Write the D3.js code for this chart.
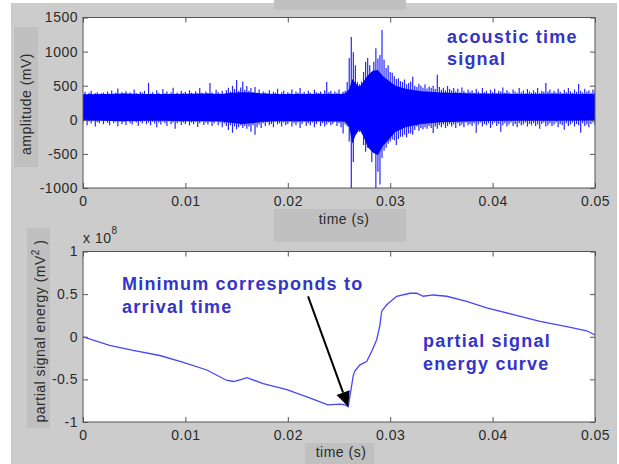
<!DOCTYPE html>
<html>
<head>
<meta charset="utf-8">
<script src="https://cdn.jsdelivr.net/npm/d3@7"></script>
<style>
html, body { margin: 0; padding: 0; background: #ffffff; }
svg { display: block; }
text { font-family: "Liberation Sans", Arial, Helvetica, sans-serif; }
</style>
</head>
<body>
<svg id="fig" width="619" height="464"></svg>
<script>
// ---- acoustic signal: per-sample peak values (mV), one pair every 0.2 ms ----
const sigStep = 0.0002;
const sigHigh = [
  380, 410, 350, 395, 425, 365, 390, 405, 345, 390,
  400, 360, 415, 375, 430, 355, 395, 460, 370, 405,
  385, 420, 350, 400, 375, 445, 390, 360, 410, 395,
  425, 370, 545, 385, 405, 355, 435, 395, 380, 450,
  390, 415, 365, 405, 470, 380, 400, 355, 425, 390,
  410, 375, 435, 395, 360, 420, 385, 465, 395, 370,
  415, 390, 540, 400, 375, 440, 405, 385, 425, 365,
  435, 470, 415, 500, 450, 585, 425, 475, 560, 440,
  495, 425, 465, 405, 480, 395, 445, 375, 415, 400,
  385, 435, 365, 410, 395, 455, 380, 405, 425, 370,
  405, 390, 445, 375, 415, 395, 465, 385, 410, 360,
  425, 395, 380, 440, 405, 390, 415, 375, 435, 555,
  405, 425, 385, 415, 395, 445, 375, 410, 425, 555,
  905, 1215, 990, 800, 555, 520, 560, 700, 850, 905,
  800, 700, 850, 1050, 900, 950, 1315, 880, 760, 800,
  700, 690, 640, 600, 610, 570, 555, 590, 520, 540,
  560, 630, 500, 480, 530, 500, 470, 520, 460, 490,
  470, 500, 450, 660, 480, 440, 470, 430, 495, 450,
  430, 465, 415, 455, 405, 475, 425, 395, 445, 410,
  435, 395, 455, 415, 390, 465, 405, 425, 385, 440,
  405, 455, 390, 425, 415, 475, 395, 435, 405, 385,
  445, 415, 395, 465, 405, 430, 390, 450, 415, 395,
  435, 405, 465, 390, 425, 410, 540, 415, 445, 395,
  425, 400, 455, 415, 390, 440, 405, 465, 420, 395,
  445, 410, 525, 425, 400, 455, 415, 435, 395, 445, 415
];
const sigLow = [
  -40, -10, -80, -25, -55, -15, -100, -35, -50, -10,
  -65, -20, -45, -80, -15, -50, -30, -95, -25, -60,
  -30, -75, -15, -50, -70, -25, -40, -90, -30, -55,
  -20, -65, -40, -80, -30, -55, -110, -40, -70, -30,
  -50, -90, -25, -65, -40, -130, -50, -30, -75, -40,
  -60, -20, -85, -40, -65, -30, -105, -50, -25, -75,
  -40, -70, -30, -90, -50, -20, -80, -40, -110, -55,
  -90, -150, -80, -190, -100, -140, -110, -80, -120, -90,
  -130, -100, -175, -80, -220, -110, -70, -120, -50, -90,
  -40, -80, -60, -110, -30, -70, -50, -100, -40, -80,
  -60, -30, -100, -50, -80, -40, -120, -60, -30, -90,
  -50, -80, -40, -110, -60, -30, -90, -50, -100, -70,
  -40, -80, -60, -30, -90, -50, -110, -200, -70, -100,
  -320, -1050, -620, -220, -150, -180, -150, -370, -470, -410,
  -410, -620, -370, -1050, -760, -950, -560, -450, -410, -350,
  -320, -290, -300, -370, -280, -250, -250, -220, -260, -200,
  -200, -220, -150, -100, -160, -120, -140, -110, -130, -90,
  -120, -195, -100, -130, -80, -110, -70, -120, -90, -60,
  -100, -70, -120, -50, -90, -70, -110, -40, -80, -60,
  -90, -50, -190, -70, -40, -100, -60, -80, -50, -120,
  -70, -40, -90, -60, -175, -80, -50, -100, -70, -40,
  -90, -60, -110, -50, -80, -70, -40, -100, -60, -80,
  -50, -90, -70, -130, -60, -40, -100, -80, -50, -90,
  -70, -40, -110, -60, -80, -145, -50, -90, -70, -40,
  -100, -60, -80, -190, -50, -90, -70, -110, -60, -40, -80
];

// ---- dense core of the signal band (mV) ----
const coreTime = [
  0, 0.002, 0.004, 0.006, 0.008, 0.010, 0.012, 0.0135, 0.0145, 0.0155,
  0.0165, 0.0175, 0.019, 0.021, 0.023, 0.025, 0.0256, 0.026, 0.0263, 0.0266,
  0.027, 0.0274, 0.0278, 0.0283, 0.0288, 0.0293, 0.0298, 0.0305, 0.0315, 0.033,
  0.035, 0.038, 0.042, 0.046, 0.05
];
const coreHigh = [
  375, 380, 385, 380, 378, 382, 385, 380, 395, 405,
  400, 385, 378, 380, 382, 380, 385, 450, 600, 540,
  480, 560, 650, 720, 730, 640, 580, 500, 455, 420,
  400, 385, 380, 382, 378
];
const coreLow = [
  -10, -15, -20, -15, -15, -20, -20, -25, -45, -60,
  -50, -30, -20, -20, -20, -25, -30, -110, -350, -230,
  -140, -250, -400, -480, -520, -380, -300, -180, -110, -60,
  -35, -20, -15, -15, -10
];

// ---- partial signal energy curve (units of 1e8 mV^2) ----
const energyTime = [
  0, 0.0026, 0.0049, 0.0075, 0.0098, 0.0121, 0.014, 0.0147, 0.0155, 0.016,
  0.0176, 0.0199, 0.0222, 0.0239, 0.0251, 0.0256, 0.0259, 0.0264, 0.02656, 0.02705,
  0.0277, 0.0282, 0.02868, 0.029, 0.02917, 0.02966, 0.03063, 0.03193, 0.03258, 0.03323,
  0.03421, 0.03551, 0.03747, 0.03942, 0.04202, 0.04463, 0.04724, 0.04919, 0.05
];
const energyValue = [
  0, -0.10, -0.16, -0.22, -0.30, -0.39, -0.51, -0.525, -0.50, -0.48,
  -0.55, -0.62, -0.72, -0.80, -0.79, -0.80, -0.82, -0.45, -0.40, -0.33,
  -0.29, -0.17, -0.035, 0.14, 0.30, 0.375, 0.475, 0.51, 0.51, 0.475,
  0.49, 0.475, 0.415, 0.34, 0.26, 0.18, 0.12, 0.07, 0.02
];

// ---- ticks ----
const timeTicks = [0, 0.01, 0.02, 0.03, 0.04, 0.05];
const timeTickLabels = ["0", "0.01", "0.02", "0.03", "0.04", "0.05"];
const ampTicks = [-1000, -500, 0, 500, 1000, 1500];
const ampTickLabels = ["-1000", "-500", "0", "500", "1000", "1500"];
const energyTicks = [-1, -0.5, 0, 0.5, 1];
const energyTickLabels = ["-1", "-0.5", "0", "0.5", "1"];

// arrow tail position in data units (time s, energy 1e8 mV^2)
const arrowTail = [0.02198, 0.474];

const svg = d3.select("#fig");
const axisColor = "#555555";
const labelColor = "#2a2a2a";
const noteColor = "#3434c8";

// figure background and label boxes
svg.append("rect").attr("x", 11).attr("y", 3).attr("width", 606).attr("height", 461).attr("fill", "#cccccc");
const shades = [[274, 0, 132, 10], [14, 27, 24, 140], [274, 209, 132, 33], [27, 228, 23, 200], [305, 443, 69, 21]];
svg.selectAll("rect.shade").data(shades).enter().append("rect")
  .attr("class", "shade")
  .attr("x", d => d[0]).attr("y", d => d[1]).attr("width", d => d[2]).attr("height", d => d[3])
  .attr("fill", "#c0c0c0");

function makePanel(id, top, bottom, yDomain, yTicks, yLabels) {
  const x = d3.scaleLinear().domain([0, 0.05]).range([83, 595]);
  const y = d3.scaleLinear().domain(yDomain).range([bottom, top]);
  svg.append("rect").attr("x", 83).attr("y", top).attr("width", 512).attr("height", bottom - top).attr("fill", "#ffffff");
  svg.append("clipPath").attr("id", id).append("rect")
    .attr("x", 83).attr("y", top).attr("width", 512).attr("height", bottom - top);
  const g = svg.append("g");
  return { x, y, g, top, bottom, yTicks, yLabels };
}

function drawAxes(p) {
  const fmtX = (d, i) => timeTickLabels[i];
  const fmtY = (d, i) => p.yLabels[i];
  const bottomAxis = d3.axisBottom(p.x).tickValues(timeTicks).tickFormat(fmtX).tickSizeInner(-5).tickSizeOuter(0).tickPadding(8);
  const topAxis = d3.axisTop(p.x).tickValues(timeTicks).tickFormat("").tickSizeInner(-5).tickSizeOuter(0);
  const leftAxis = d3.axisLeft(p.y).tickValues(p.yTicks).tickFormat(fmtY).tickSizeInner(-5).tickSizeOuter(0).tickPadding(5);
  const rightAxis = d3.axisRight(p.y).tickValues(p.yTicks).tickFormat("").tickSizeInner(-5).tickSizeOuter(0);
  const a1 = svg.append("g").attr("transform", `translate(0,${p.bottom})`).call(bottomAxis);
  const a2 = svg.append("g").attr("transform", `translate(0,${p.top})`).call(topAxis);
  const a3 = svg.append("g").attr("transform", `translate(83,0)`).call(leftAxis);
  const a4 = svg.append("g").attr("transform", `translate(595,0)`).call(rightAxis);
  [a1, a2, a3, a4].forEach(a => {
    a.select(".domain").remove();
    a.selectAll(".tick line").attr("stroke", axisColor).attr("stroke-width", 1);
    a.selectAll("text").attr("fill", labelColor).attr("font-size", 14)
      .attr("letter-spacing", "0.5px")
      .style("font-family", '"Liberation Sans", Arial, sans-serif');
  });
  svg.append("rect").attr("x", 83).attr("y", p.top).attr("width", 512).attr("height", p.bottom - p.top)
    .attr("fill", "none").attr("stroke", axisColor).attr("stroke-width", 1);
}

// ---------- upper panel: acoustic time signal ----------
const p1 = makePanel("clipTop", 17.5, 188, [-1000, 1500], ampTicks, ampTickLabels);
const sig = p1.g.append("g").attr("clip-path", "url(#clipTop)");
// dense core of the oscillation
sig.append("path")
  .datum(coreTime.map((t, i) => [t, coreHigh[i], coreLow[i]]))
  .attr("d", d3.area().x(d => p1.x(d[0])).y0(d => p1.y(d[2])).y1(d => p1.y(d[1])))
  .attr("fill", "#0000ff");
// individual peaks of each sample
sig.selectAll("line.peak").data(sigHigh).enter().append("line")
  .attr("class", "peak")
  .attr("x1", (d, i) => p1.x(i * sigStep)).attr("x2", (d, i) => p1.x(i * sigStep))
  .attr("y1", (d, i) => p1.y(sigLow[i])).attr("y2", d => p1.y(d))
  .attr("stroke", "#0000ff").attr("stroke-width", 1.2).attr("stroke-opacity", 0.85);
drawAxes(p1);

svg.append("text").attr("x", 344).attr("y", 224).attr("text-anchor", "middle")
  .attr("font-size", 14).attr("letter-spacing", "0.5px").attr("fill", labelColor).text("time (s)");
svg.append("text").attr("transform", "translate(31,104) rotate(-90)").attr("text-anchor", "middle")
  .attr("font-size", 14).attr("letter-spacing", "0.5px").attr("fill", labelColor).text("amplitude (mV)");

const note1 = svg.append("text").attr("font-size", 18).attr("font-weight", "bold")
  .attr("letter-spacing", "1.2px").attr("fill", noteColor);
note1.append("tspan").attr("x", 447).attr("y", 43).text("acoustic time");
note1.append("tspan").attr("x", 447).attr("y", 65).text("signal");

// ---------- lower panel: partial signal energy ----------
const p2 = makePanel("clipBottom", 251.5, 422, [-1, 1], energyTicks, energyTickLabels);
const energyData = energyTime.map((t, i) => [t, energyValue[i]]);
p2.g.append("path")
  .attr("clip-path", "url(#clipBottom)")
  .attr("d", d3.line().x(d => p2.x(d[0])).y(d => p2.y(d[1]))(energyData))
  .attr("fill", "none").attr("stroke", "#4646ff").attr("stroke-width", 1.3);
drawAxes(p2);

svg.append("text").attr("x", 341).attr("y", 457).attr("text-anchor", "middle")
  .attr("font-size", 14).attr("letter-spacing", "0.5px").attr("fill", labelColor).text("time (s)");
const yl2 = svg.append("text").attr("transform", "translate(45,331) rotate(-90)").attr("text-anchor", "middle")
  .attr("font-size", 14).attr("letter-spacing", "0.5px").attr("fill", labelColor);
yl2.append("tspan").text("partial signal energy (mV");
yl2.append("tspan").attr("font-size", 10).attr("dy", -6).text("2");
yl2.append("tspan").attr("dy", 6).text(" )");

const scaleNote = svg.append("text").attr("x", 83).attr("y", 243).attr("font-size", 14)
  .attr("letter-spacing", "0.5px").attr("fill", labelColor);
scaleNote.append("tspan").text("x 10");
scaleNote.append("tspan").attr("font-size", 10).attr("dy", -9).text("8");

const note2 = svg.append("text").attr("font-size", 18).attr("font-weight", "bold")
  .attr("letter-spacing", "1.2px").attr("fill", noteColor);
note2.append("tspan").attr("x", 122).attr("y", 290).text("Minimum corresponds to");
note2.append("tspan").attr("x", 122).attr("y", 313).text("arrival time");

const note3 = svg.append("text").attr("font-size", 18).attr("font-weight", "bold")
  .attr("letter-spacing", "1.2px").attr("fill", noteColor);
note3.append("tspan").attr("x", 423).attr("y", 347).text("partial signal");
note3.append("tspan").attr("x", 423).attr("y", 370).text("energy curve");

// arrow from the note to the minimum of the energy curve
const minIdx = d3.minIndex(energyValue);
const tip = [p2.x(energyTime[minIdx]), p2.y(energyValue[minIdx])];
const tail = [p2.x(arrowTail[0]), p2.y(arrowTail[1])];
const dx = tip[0] - tail[0], dy = tip[1] - tail[1];
const len = Math.hypot(dx, dy);
const ux = dx / len, uy = dy / len;
const headLen = 15, headHalf = 7;
const base = [tip[0] - ux * headLen, tip[1] - uy * headLen];
svg.append("line").attr("x1", tail[0]).attr("y1", tail[1]).attr("x2", base[0]).attr("y2", base[1])
  .attr("stroke", "#000000").attr("stroke-width", 2);
svg.append("polygon")
  .attr("points", [tip, [base[0] - uy * headHalf, base[1] + ux * headHalf], [base[0] + uy * headHalf, base[1] - ux * headHalf]]
    .map(p => p.join(",")).join(" "))
  .attr("fill", "#000000");
</script>
</body>
</html>
